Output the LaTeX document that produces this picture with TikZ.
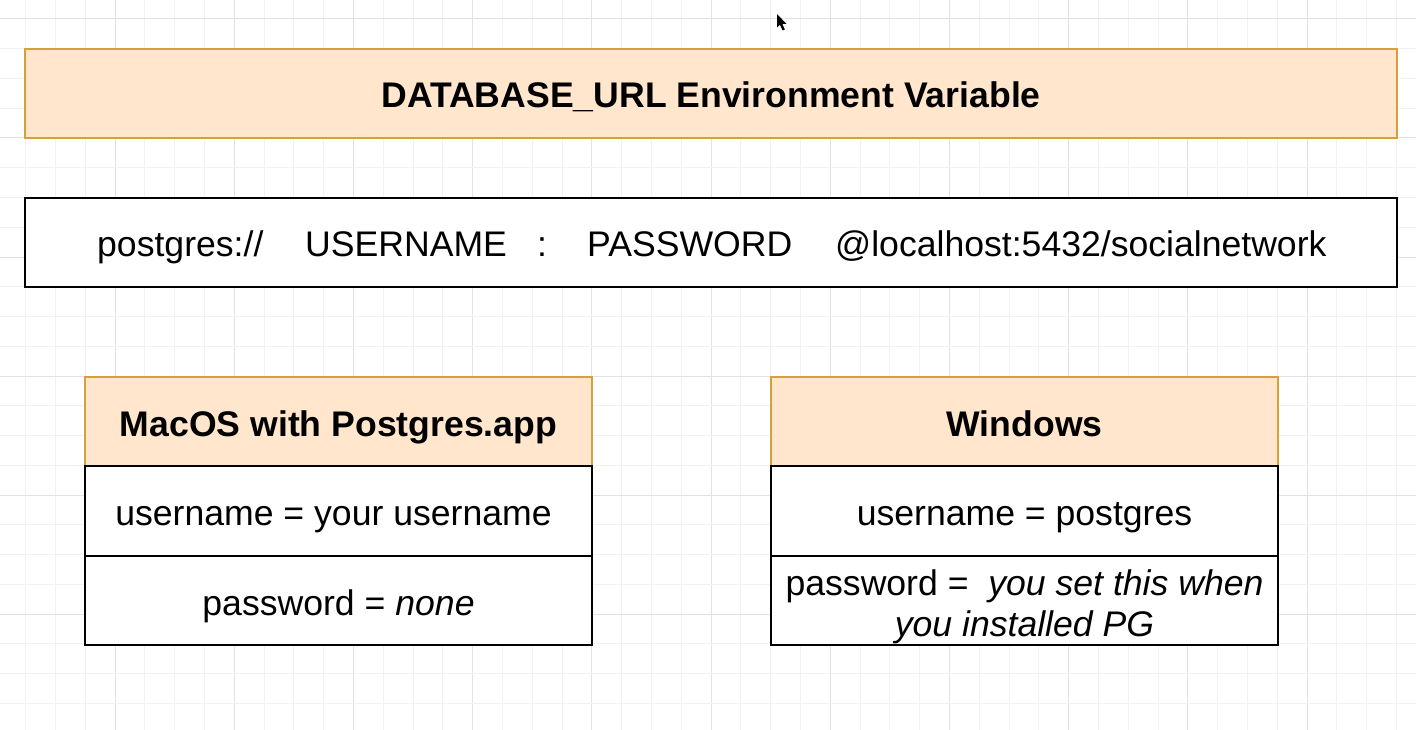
\documentclass[tikz,border=0pt]{standalone}
\usepackage{fontspec}
\setmainfont{Liberation Sans}
\definecolor{peach}{HTML}{FFE6CC}
\definecolor{orangeborder}{RGB}{214,160,58}
\definecolor{gridminor}{HTML}{F2F2F2}
\definecolor{gridmajor}{HTML}{E2E2E2}
\tikzset{
  hdrbox/.style={draw=orangeborder, fill=peach, line width=2.8pt, inner sep=0pt},
  rowbox/.style={draw=black, fill=white, line width=2.8pt, inner sep=0pt},
  hdrtext/.style={anchor=base, inner sep=0pt, font=\fontsize{35.6}{42}\selectfont\bfseries},
  bodytext/.style={anchor=base, inner sep=0pt, font=\fontsize{35.6}{42}\selectfont},
  urlpart/.style={anchor=base west, inner sep=0pt, font=\fontsize{35.6}{42}\selectfont},
  tablecell/.style={minimum width=507pt},
}
\begin{document}
\begin{tikzpicture}[x=1pt,y=-1pt]
\useasboundingbox (0,0) rectangle (1416,730);
\fill[white] (0,0) rectangle (1416,730);
% grid
\foreach \k in {-3,...,44} {
  \pgfmathsetmacro{\gx}{115+29.8*\k}
  \pgfmathtruncatemacro{\m}{mod(\k+400,4)}
  \ifnum\m=0
    \draw[gridmajor, line width=1pt] (\gx,0) -- (\gx,730);
  \else
    \draw[gridminor, line width=1pt] (\gx,0) -- (\gx,730);
  \fi
}
\foreach \k in {0,...,24} {
  \pgfmathsetmacro{\gy}{19+29.75*\k}
  \pgfmathtruncatemacro{\m}{mod(\k,4)}
  \ifnum\m=0
    \draw[gridmajor, line width=1pt] (0,\gy) -- (1416,\gy);
  \else
    \draw[gridminor, line width=1pt] (0,\gy) -- (1416,\gy);
  \fi
}
% cursor
\fill[black] (777,14) -- (777,27.5) -- (780,24.8) -- (782.6,30.5) -- (784.8,29.5) -- (782.3,23.8) -- (786.3,23.8) -- cycle;

% title
\node[hdrbox, minimum width=1372pt, minimum height=89pt] (title) at (711,93.5) {};
\node[hdrtext] (titletext) at (711,108) {DATABASE\_URL Environment Variable};

% url box
\node[rowbox, minimum width=1372pt, minimum height=89pt] (url) at (711,242.5) {};
\node[urlpart] (proto) at (97,256) {postgres://};
\node[urlpart] (user) at (305,256) {USERNAME};
\node[urlpart] (colon) at (537,256) {:};
\node[urlpart] (pass) at (587,256) {PASSWORD};
\node[urlpart] (host) at (835,256) {@localhost:5432/socialnetwork};

% left table
\node[hdrbox, tablecell, minimum height=89pt] (machdr) at (338.5,421.5) {};
\node[rowbox, tablecell, minimum height=90pt] (macuser) at (338.5,511) {};
\node[rowbox, tablecell, minimum height=89pt] (macpass) at (338.5,600.5) {};
\node[hdrtext] (machdrtext) at (338.5,436) {MacOS with Postgres.app};
\node[bodytext] (macusertext) at (333.5,525) {username = your username};
\node[bodytext] (macpasstext) at (338.5,615) {password = \textit{none}};

% right table
\node[hdrbox, tablecell, minimum height=89pt] (winhdr) at (1024.5,421.5) {};
\node[rowbox, tablecell, minimum height=90pt] (winuser) at (1024.5,511) {};
\node[rowbox, tablecell, minimum height=89pt] (winpass) at (1024.5,600.5) {};
\node[hdrtext] (winhdrtext) at (1024.5,436) {Windows};
\node[bodytext] (winusertext) at (1024.5,525) {username = postgres};
\node[bodytext] (winpasstext1) at (1024.5,595) {password = \ \textit{you set this when}};
\node[bodytext] (winpasstext2) at (1024.5,636) {\textit{you installed PG}};
\end{tikzpicture}
\end{document}
